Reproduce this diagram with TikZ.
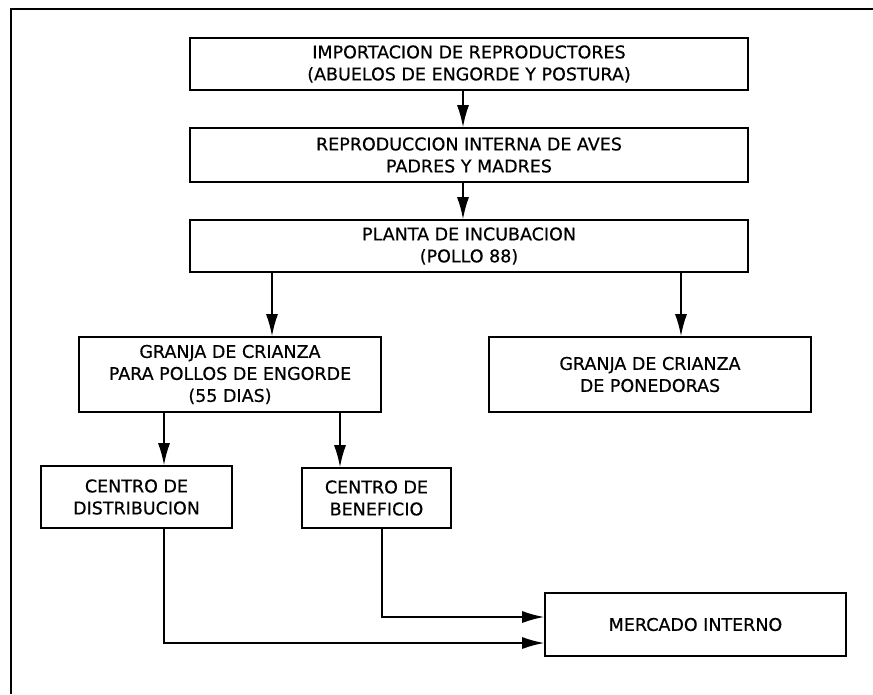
\documentclass[tikz,border=0pt]{standalone}
\usepackage{fontspec}
\setmainfont[FakeBold=0.5]{DejaVu Sans}
\usetikzlibrary{arrows.meta}
\tikzset{
  caja/.style={draw=black, line width=1.6pt, align=center, inner sep=0pt, font=\fontsize{17.5}{22}\selectfont},
  flecha/.style={line width=1.6pt, -{Latex[length=22pt,width=12pt]}}
}

\begin{document}
\begin{tikzpicture}[x=1pt, y=-1pt]
        \useasboundingbox (0,0) rectangle (873,694);
        \draw[line width=1.6pt] (873,9) -- (11,9) -- (11,694);

        \node[caja, minimum width=558pt, minimum height=52pt] (imp) at (469,64) {IMPORTACION DE REPRODUCTORES\\(ABUELOS DE ENGORDE Y POSTURA)};
        \node[caja, minimum width=558pt, minimum height=54pt] (rep) at (469,155) {REPRODUCCION INTERNA DE AVES\\PADRES Y MADRES};
        \node[caja, minimum width=558pt, minimum height=52pt] (inc) at (469,246) {PLANTA DE INCUBACION\\(POLLO 88)};
        \node[caja, minimum width=302pt, minimum height=75pt] (eng) at (230,374.5) {GRANJA DE CRIANZA\\PARA POLLOS DE ENGORDE\\(55 DIAS)};
        \node[caja, minimum width=322pt, minimum height=75pt] (pon) at (650,374.5) {GRANJA DE CRIANZA\\DE PONEDORAS};
        \node[caja, minimum width=191pt, minimum height=62pt] (dis) at (136.5,497) {CENTRO DE\\DISTRIBUCION};
        \node[caja, minimum width=149pt, minimum height=60pt] (ben) at (376.5,498) {CENTRO DE\\BENEFICIO};
        \node[caja, minimum width=301pt, minimum height=63pt] (mer) at (695.5,624.5) {MERCADO INTERNO};

        \path[flecha]
            ([xshift=-6pt]imp.south) edge ([xshift=-6pt]rep.north)
            ([xshift=-6pt]rep.south) edge ([xshift=-6pt]inc.north)
            ([xshift=42pt]eng.north |- inc.south) edge ([xshift=42pt]eng.north)
            ([xshift=31pt]pon.north |- inc.south) edge ([xshift=31pt]pon.north)
            ([xshift=27.5pt]dis.north |- eng.south) edge ([xshift=27.5pt]dis.north)
            ([xshift=-36.5pt]ben.north |- eng.south) edge ([xshift=-36.5pt]ben.north);

        \draw[flecha] ([xshift=5.5pt]ben.south) |- ([yshift=7.5pt]mer.west);
        \draw[flecha] ([xshift=27.5pt]dis.south) |- ([yshift=-18.5pt]mer.west);
\end{tikzpicture}
\end{document}
